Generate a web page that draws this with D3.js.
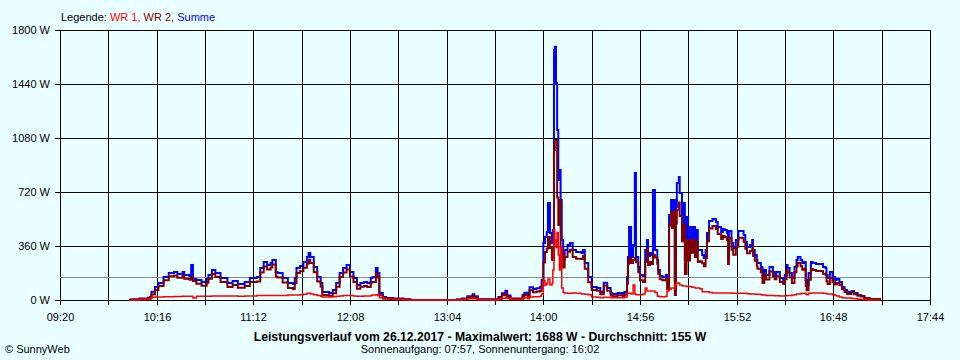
<!DOCTYPE html>
<html><head><meta charset="utf-8">
<script src="https://cdn.jsdelivr.net/npm/d3@7"></script>
<style>
html,body{margin:0;padding:0;background:#eaffff;}
svg{display:block;}
text{font-family:"Liberation Sans",Arial,sans-serif;fill:#000;}
</style></head><body>
<svg id="c" width="960" height="360"></svg>
<script>
// ---- data ----
const legendLabels = ["WR 1", "WR 2", "Summe"];
const yTicks = [0, 360, 720, 1080, 1440, 1800];
const xTickLabels = ["09:20","10:16","11:12","12:08","13:04","14:00","14:56","15:52","16:48","17:44"];
const xMinorLabels = ["09:48","10:44","11:40","12:36","13:32","14:28","15:24","16:20","17:16"];
const average = 155;
const title = "Leistungsverlauf vom 26.12.2017 - Maximalwert: 1688 W - Durchschnitt: 155 W";
const subtitle = "Sonnenaufgang: 07:57, Sonnenuntergang: 16:02";
const credit = "© SunnyWeb";

const times = ["10:00","10:01","10:06","10:11","10:12","10:13","10:15","10:17","10:20","10:23","10:26","10:28","10:31","10:32","10:35","10:36","10:37","10:39","10:42","10:45","10:46","10:48","10:50","10:53","10:57","11:00","11:03","11:07","11:10","11:14","11:16","11:18","11:20","11:22","11:23","11:25","11:26","11:29","11:32","11:35","11:36","11:37","11:39","11:41","11:43","11:44","11:45","11:47","11:49","11:51","11:52","11:56","11:58","12:00","12:02","12:04","12:06","12:08","12:10","12:12","12:14","12:16","12:18","12:20","12:21","12:23","12:24","12:25","12:27","12:29","12:33","12:39","12:43",
"13:10","13:13","13:16","13:19","13:20","13:22","13:29","13:34","13:36","13:38","13:39","13:41","13:47","13:48","13:49","13:51","13:52","13:54","13:56","13:58","13:59",
"14:00:00","14:01:00","14:02:00","14:02:40","14:03:50","14:05:00","14:05:30","14:06:10","14:06:40","14:07:20","14:08:00","14:08:40","14:09:20","14:10:00","14:10:40","14:11:30","14:12:20","14:14:00","14:15:30","14:17:00","14:19:00","14:22:00","14:23:00","14:24:00","14:26:00",
"14:28","14:31","14:33","14:35","14:37","14:39","14:40","14:43","14:46","14:47","14:48:30","14:49:00","14:49:40","14:50:50","14:52","14:53:00","14:53:40","14:55","14:56","14:57:40","14:59",
"15:00:00","15:00:40","15:01:50","15:03:00","15:03:30","15:04:40","15:06:00","15:06:30","15:07:30","15:09","15:11:00","15:11:40","15:12:50","15:14:00","15:14:30","15:15:00","15:16:10","15:16:50","15:17:20","15:18:30","15:19:00","15:20:20","15:21:00","15:22:00","15:23:00","15:23:50","15:25:00","15:26:00","15:26:40","15:27:50","15:29:00","15:29:30","15:30:40","15:32","15:33","15:34:00","15:34:50","15:36","15:38","15:40","15:41","15:43","15:44","15:45","15:46:20","15:47:00","15:47:30","15:49","15:50","15:51:30","15:53","15:56","15:57","15:58","15:59:40",
"16:01:00","16:01:30","16:02:30","16:03:40","16:04","16:06","16:07","16:08","16:09","16:11","16:13","16:14","16:15","16:17","16:19","16:20","16:21:00","16:21:30","16:22:40","16:24","16:25:30","16:26:40","16:27:20","16:29","16:30:00","16:30:50","16:32:00","16:32:30","16:33:40","16:35","16:36","16:38","16:40","16:42","16:43:30","16:44:00","16:44:40","16:46","16:47:30","16:49","16:50","16:51:30","16:53","16:54:30","16:56","16:58:30","17:00","17:02","17:04","17:06","17:09","17:15"];

const summe = [0,3,10,15,20,55,87,113,153,180,187,173,187,167,160,233,140,133,120,140,167,200,180,147,113,127,107,120,147,153,213,253,233,247,267,187,180,147,113,107,147,213,227,253,287,313,287,220,153,113,53,47,67,113,180,213,233,187,147,100,113,120,113,147,153,213,180,47,20,13,10,5,0,
3,10,25,38,25,5,3,20,45,62,30,10,10,33,49,27,85,73,78,85,133,
380,420,453,647,447,380,467,1667,1688,1447,1133,800,867,667,400,267,333,367,380,333,320,313,333,247,153,
87,80,53,115,80,47,40,47,40,53,153,287,487,287,367,847,287,220,167,160,333,
400,293,313,300,733,333,267,200,160,153,167,133,567,667,560,667,133,620,780,820,713,487,647,267,553,353,487,400,487,367,467,333,333,300,280,333,447,527,540,520,487,453,473,467,447,287,460,380,347,400,460,433,387,353,367,
400,333,300,267,247,220,147,200,167,220,187,167,187,147,133,167,233,213,180,147,220,267,287,267,247,253,133,100,180,253,247,240,240,220,213,167,147,187,153,133,140,120,87,67,53,60,47,33,27,13,7,0];

const wr1 = [0,0,3,5,7,18,20,20,22,22,24,24,25,25,25,25,13,25,25,25,25,27,27,27,27,27,25,27,27,30,30,30,30,30,30,30,30,30,33,33,33,33,35,38,45,45,40,35,30,25,20,20,22,25,27,30,30,30,27,25,25,27,27,30,33,35,30,15,7,5,3,2,0,
0,3,8,12,8,2,0,5,12,18,10,3,3,10,15,8,20,22,22,25,40,
130,100,110,140,100,110,200,470,400,350,450,300,200,353,80,50,47,45,45,47,45,40,40,38,35,
20,18,15,18,18,15,15,15,15,18,45,45,45,40,100,40,35,35,35,40,80,
60,60,60,60,60,50,25,25,22,22,25,60,70,80,80,80,100,110,113,110,100,95,93,93,90,90,90,85,85,80,80,80,75,55,55,55,55,50,47,47,47,47,47,47,47,47,47,45,45,45,45,45,45,42,40,
40,40,38,38,38,35,33,33,30,30,30,28,28,27,27,28,30,30,30,33,35,40,40,42,45,45,40,35,45,47,47,47,47,45,45,42,40,40,35,30,27,20,15,13,13,10,8,5,3,2,0,0];

const wr2 = [0,3,7,10,13,37,67,93,131,158,163,149,162,142,135,150,127,108,95,115,142,173,153,120,86,100,82,93,120,123,183,223,203,217,237,157,150,117,80,74,114,180,192,215,242,268,247,185,123,88,33,27,45,88,153,183,203,157,120,75,88,93,86,117,120,178,150,32,13,8,7,3,0,
3,7,17,26,17,3,3,15,33,44,20,7,7,23,34,19,65,51,56,60,93,
250,320,343,420,347,270,267,1000,1067,1067,683,500,667,314,320,217,286,322,335,286,275,273,293,209,118,
67,62,38,97,62,32,25,32,25,35,108,242,280,247,267,280,252,185,132,120,253,
340,233,253,240,300,283,242,175,138,131,142,73,497,587,480,587,33,510,600,650,560,392,500,174,400,263,397,315,402,287,387,253,258,245,225,278,392,477,493,473,440,406,426,420,400,240,413,335,302,355,415,388,342,311,327,
360,293,262,229,209,185,114,167,137,190,157,139,159,120,106,139,203,183,150,114,185,227,247,225,202,208,93,65,135,206,200,193,193,175,168,125,107,147,118,103,113,100,72,54,40,50,39,28,24,11,7,0];

// ---- chart ----
const toMin = s => { const p = s.split(':').map(Number); return p[0]*60 + p[1] + (p[2]||0)/60; };
const svg = d3.select("#c");
const L = 60, R = 930, T = 30, B = 300;
const x = d3.scaleLinear().domain([toMin("09:20"), toMin("17:44")]).range([L, R]);
const y = d3.scaleLinear().domain([0, 1800]).range([B, T]);
const px = v => Math.round(v) + 0.5;
const FONT = "Liberation Sans, Arial, sans-serif";

svg.append("rect").attr("width",960).attr("height",360).attr("fill","#eaffff");

// x axis / vertical grid
const allX = xTickLabels.concat(xMinorLabels).map(toMin);
const xAxis = d3.axisBottom(x).tickValues(allX).tickSize(-(B+5-T)).tickPadding(8)
  .tickFormat(v => { const lab = xTickLabels.find(s => toMin(s) === v); return lab || ""; });
const gx = svg.append("g").attr("transform", `translate(0.5,${B+5})`).call(xAxis);
gx.select(".domain").remove();
gx.selectAll(".tick line").attr("stroke","#000").attr("shape-rendering","crispEdges");
gx.selectAll(".tick").attr("transform", d => `translate(${Math.round(x(d))},0)`);
gx.selectAll("text").style("font-size","11px").style("font-family",FONT).attr("fill","#000");

// y axis / horizontal grid
const yAxis = d3.axisLeft(y).tickValues(yTicks).tickSize(-(R-55)).tickPadding(5).tickFormat(d => d + " W");
const gy = svg.append("g").attr("transform", `translate(55,0.5)`).call(yAxis);
gy.select(".domain").remove();
gy.selectAll(".tick").attr("transform", d => `translate(0,${Math.round(y(d))})`);
gy.selectAll(".tick line").attr("stroke","#000").attr("shape-rendering","crispEdges");
gy.selectAll("text").style("font-size","11px").style("font-family",FONT).attr("fill","#000");

// average line
svg.append("line").attr("x1",L).attr("x2",R).attr("y1",px(y(average))).attr("y2",px(y(average)))
  .attr("stroke","#8c8c8c").attr("stroke-width",1).attr("shape-rendering","crispEdges");

// series
const tm = times.map(toMin);
const series = [
  {name:"Summe", vals:summe, color:"#0000ff", w:2},
  {name:"WR 2", vals:wr2, color:"#800000", w:2},
  {name:"WR 1", vals:wr1, color:"#ff0000", w:1.5}
];
const line = d3.line().curve(d3.curveStepAfter).x(d => x(d[0])).y(d => y(d[1]));
series.forEach(s => {
  svg.append("path").datum(tm.map((t,i) => [t, s.vals[i]]))
    .attr("d", line).attr("fill","none").attr("stroke", s.color).attr("stroke-width", s.w)
    .attr("stroke-linejoin","miter");
});

// legend
const leg = svg.append("text").attr("x",61).attr("y",21).style("font-size","11px");
leg.append("tspan").text("Legende: ");
leg.append("tspan").attr("fill","#ff0000").text(legendLabels[0] + ", ");
leg.append("tspan").attr("fill","#800000").text(legendLabels[1] + ", ");
leg.append("tspan").attr("fill","#0000ff").text(legendLabels[2]);

// titles
svg.append("text").attr("x",480).attr("y",341).attr("text-anchor","middle")
  .style("font-weight","bold").style("font-size","12.2px").text(title);
svg.append("text").attr("x",480).attr("y",353).attr("text-anchor","middle").style("font-size","11px").text(subtitle);
svg.append("text").attr("x",5).attr("y",353).style("font-size","11px").text(credit);
</script>
</body></html>
